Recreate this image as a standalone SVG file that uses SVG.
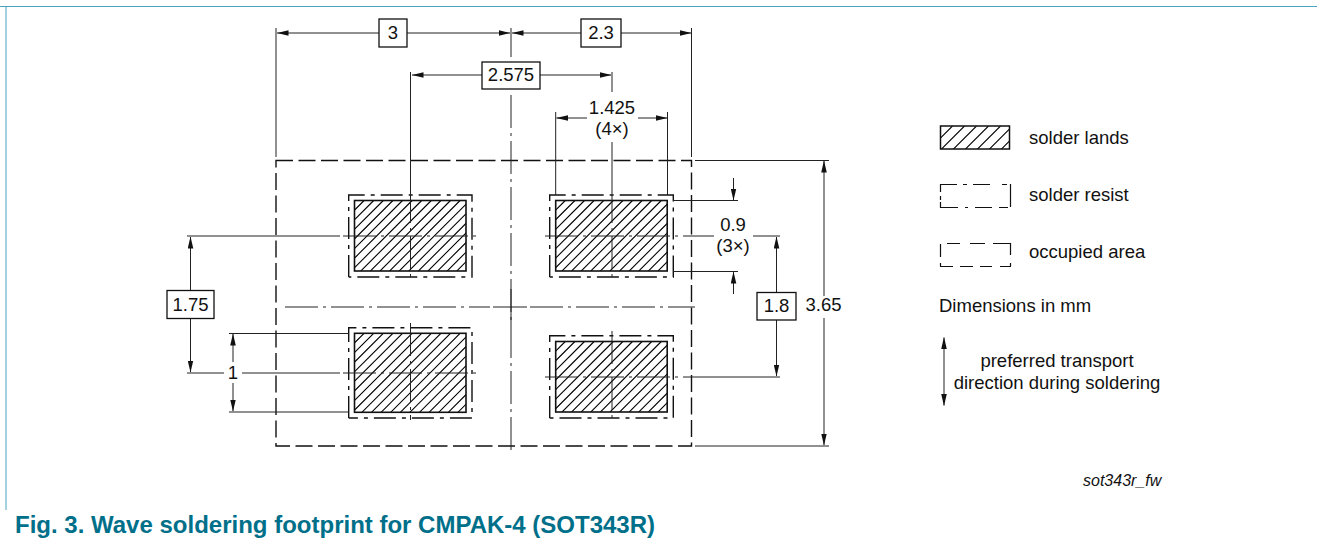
<svg xmlns="http://www.w3.org/2000/svg" width="1317" height="542" viewBox="0 0 1317 542">
<style>
text{font-family:"Liberation Sans",Arial,sans-serif;font-size:18.5px;fill:#111}
.m{text-anchor:middle}
.l{fill:none;stroke:#222;stroke-width:1}
.a{fill:none;stroke:#222;stroke-width:1;marker-start:url(#ah);marker-end:url(#ah)}
.e{fill:none;stroke:#222;stroke-width:1;marker-end:url(#ah)}
.c{fill:none;stroke:#222;stroke-width:1;stroke-dasharray:33 5 3 5}
.occ{fill:none;stroke:#111;stroke-width:1.4;stroke-dasharray:17 5.5}
.res{fill:none;stroke:#111;stroke-width:1.4;stroke-dasharray:22 6 4 6}
.land{fill:none;stroke:#111;stroke-width:1.6}
.hl{fill:none;stroke:#000;stroke-width:1.1}
.box{fill:#fff;stroke:#111;stroke-width:1.3}
.lg{fill:none;stroke:#111;stroke-width:1.2}
</style>
<defs>
<path id="hatch" class="hl" d="M9.6 0l-80 80M19.2 0l-80 80M28.8 0l-80 80M38.4 0l-80 80M48 0l-80 80M57.6 0l-80 80M67.2 0l-80 80M76.8 0l-80 80M86.4 0l-80 80M96 0l-80 80M105.6 0l-80 80M115.2 0l-80 80M124.8 0l-80 80M134.4 0l-80 80M144 0l-80 80M153.6 0l-80 80M163.2 0l-80 80M172.8 0l-80 80M182.4 0l-80 80M192 0l-80 80"/>
<path id="hatch2" class="hl" d="M12 0l-30 30M24 0l-30 30M36 0l-30 30M48 0l-30 30M60 0l-30 30M72 0l-30 30M84 0l-30 30M96 0l-30 30"/>
<clipPath id="c1"><rect x="354.5" y="200.5" width="111.5" height="70.5"/></clipPath>
<clipPath id="c2"><rect x="555.7" y="200.5" width="111.5" height="70.5"/></clipPath>
<clipPath id="c3"><rect x="354.5" y="333.3" width="111.5" height="79"/></clipPath>
<clipPath id="c4"><rect x="555.7" y="341.5" width="111.5" height="70.5"/></clipPath>
<clipPath id="c5"><rect x="940.5" y="126" width="69" height="23"/></clipPath>
<marker id="ah" markerWidth="12" markerHeight="6" refX="11.5" refY="3" orient="auto-start-reverse" markerUnits="userSpaceOnUse"><path d="M0 .2L12 3L0 5.8Z" fill="#111"/></marker>
</defs>
<path d="M0 6.5H1317M6 6V510" fill="none" stroke="#4aa3bd" stroke-width="1"/>
<g id="occupied-area"><path class="occ" d="M276 160.5H691.5V446H276Z"/></g>
<g id="land-tl"><g clip-path="url(#c1)"><use href="#hatch" x="354.5" y="200.5"/></g><rect class="land" x="354.5" y="200.5" width="111.5" height="70.5"/><path class="res" d="M348.7 277V195H472V277H348.7"/></g>
<g id="land-tr"><g clip-path="url(#c2)"><use href="#hatch" x="555.7" y="200.5"/></g><rect class="land" x="555.7" y="200.5" width="111.5" height="70.5"/><path class="res" d="M549.7 277V195H673.3V277H549.7"/></g>
<g id="land-bl"><g clip-path="url(#c3)"><use href="#hatch" x="354.5" y="333.3"/></g><rect class="land" x="354.5" y="333.3" width="111.5" height="79"/><path class="res" d="M348.7 418V327.7H472V418H348.7"/></g>
<g id="land-br"><g clip-path="url(#c4)"><use href="#hatch" x="555.7" y="341.5"/></g><rect class="land" x="555.7" y="341.5" width="111.5" height="70.5"/><path class="res" d="M549.7 418V335.7H673.3V418H549.7"/></g>
<g id="connectors">
<path class="l" d="M276 28V157M691.5 28V157M511 28V57M410.5 72V190M612 72V92M612 142V190M555.7 112V195M667.5 112V195"/>
<path class="c" d="M511 95V452"/>
<path class="l" d="M493 307H527M511 289V325"/>
<path class="c" d="M285 307H490M530 307H695"/>
<path class="c" d="M410.5 190V280M612 190V280M410.5 323V420M612 331V421"/>
<path class="l" d="M187 236H340M187 373H224M242 373H340"/>
<path class="c" d="M343 236H477M343 373H477M545 236H714M545 377H700"/>
<path class="l" d="M753 236H780M700 377H780M673 200.5H738M673 271.5H738M229 333.5H348M229 412H348M695 160.5H829M695 446H829"/>
<path class="e" d="M379 33H277"/><path class="e" d="M407 33H510"/>
<path class="e" d="M581 33H512"/><path class="e" d="M621 33H691"/>
<path class="e" d="M482 75H412"/><path class="e" d="M540 75H611"/>
<path class="e" d="M587 118H556.5"/><path class="e" d="M638 118H667"/>
<path class="e" d="M733.5 178V200"/><path class="e" d="M733.5 294V272"/>
<path class="e" d="M776.5 292V237"/><path class="e" d="M776.5 320V376"/>
<path class="e" d="M824 296V161"/><path class="e" d="M824 318V445"/>
<path class="e" d="M190.5 290V237"/><path class="e" d="M190.5 319V372"/>
<path class="e" d="M233 362V334"/><path class="e" d="M233 383V411"/>
</g>
<g id="dim-3"><rect class="box" x="379" y="19" width="28" height="28"/><text class="m" x="393" y="38.5">3</text></g>
<g id="dim-2-3"><rect class="box" x="581" y="19" width="40" height="28"/><text class="m" x="601" y="38.5">2.3</text></g>
<g id="dim-2-575"><rect class="box" x="482" y="62" width="58" height="27"/><text class="m" x="511" y="81">2.575</text></g>
<g id="dim-1-425"><text class="m" x="612" y="114">1.425</text><text class="m" x="612" y="135">(4×)</text></g>
<g id="dim-0-9"><text class="m" x="733" y="231">0.9</text><text class="m" x="733" y="252">(3×)</text></g>
<g id="dim-1-8"><rect class="box" x="757" y="292.5" width="39" height="27.5"/><text class="m" x="776.5" y="312">1.8</text></g>
<g id="dim-3-65"><text class="m" x="823.5" y="310.5">3.65</text></g>
<g id="dim-1-75"><rect class="box" x="167" y="290.5" width="47" height="28"/><text class="m" x="190.5" y="310.5">1.75</text></g>
<g id="dim-1"><text class="m" x="233" y="379">1</text></g>
<g id="legend-lands"><g clip-path="url(#c5)"><use href="#hatch2" x="940.5" y="126"/></g><rect x="940.5" y="126" width="69" height="23" fill="none" stroke="#111" stroke-width="1.5"/><text x="1029" y="144">solder lands</text></g>
<g id="legend-resist"><path class="lg" d="M941 184.5H957M963 184.5H967M973 184.5H990M1002 184.5H1007M1010.5 184V207M941 207.5H958M965 207.5H968M975 207.5H992M999 207.5H1008M940.5 184V192M940.5 196V200M940.5 202V208"/><text x="1029" y="201">solder resist</text></g>
<g id="legend-occupied"><path class="lg" d="M947 243.5H960M970 243.5H985M993 243.5H1010M1010.5 243V255M1010.5 263V266M940 266.5H953M960 266.5H973M980 266.5H992M1000 266.5H1011M940.5 244V257M940.5 263V266"/><text x="1029" y="258">occupied area</text></g>
<text x="939" y="312">Dimensions in mm</text>
<path class="a" d="M944 337.5V405.5"/>
<text class="m" x="1057" y="367">preferred transport</text>
<text class="m" x="1057" y="389">direction during soldering</text>
<text x="1083" y="486" style="font-size:16px;font-style:italic">sot343r_fw</text>
<text x="15" y="532.5" style="font-size:24px;font-weight:700;fill:#00708a">Fig. 3. Wave soldering footprint for CMPAK-4 (SOT343R)</text>
</svg>
